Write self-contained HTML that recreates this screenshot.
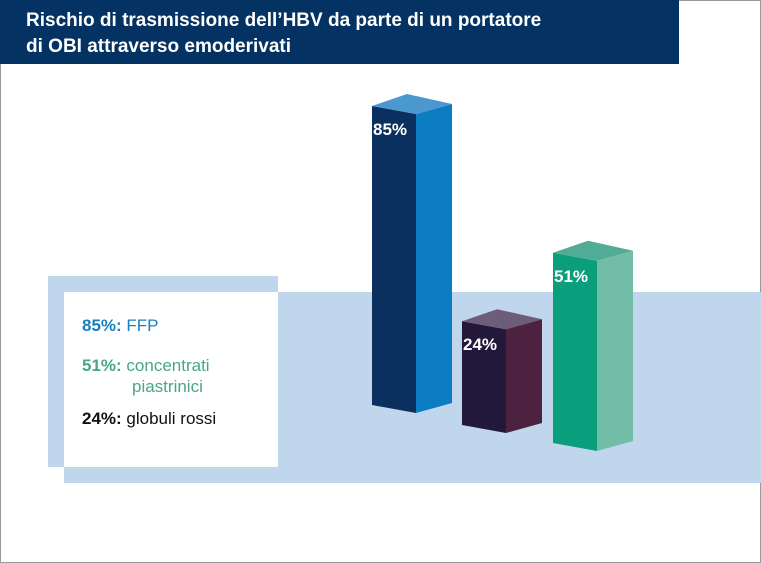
<!DOCTYPE html>
<html><head><meta charset="utf-8"><style>
body{margin:0;width:761px;height:563px;overflow:hidden;background:#fff;font-family:"Liberation Sans",sans-serif}
#frame{position:absolute;left:0;top:0;width:759px;height:561px;border:1px solid #9a9a9a}
</style></head><body>
<div id="frame"></div>
<svg width="761" height="563" style="position:absolute;left:0;top:0">
<rect x="0" y="0" width="679" height="64" fill="#043263"/>
<text x="26" y="26" fill="#fff" font-size="19" font-weight="bold">Rischio di trasmissione dell’HBV da parte di un portatore</text>
<text x="26" y="52" fill="#fff" font-size="19" font-weight="bold">di OBI attraverso emoderivati</text>
<rect x="64" y="292" width="697" height="191" fill="#c0d6ec"/>
<rect x="48" y="276" width="230" height="191" fill="#c0d6ec"/>
<rect x="64" y="292" width="214" height="175" fill="#fff"/>
<g font-size="17">
<text x="82" y="331" fill="#1a7fc1"><tspan font-weight="bold">85%:</tspan> FFP</text>
<text x="82" y="371" fill="#4aa58a"><tspan font-weight="bold">51%:</tspan> concentrati</text>
<text x="132" y="392" fill="#4aa58a">piastrinici</text>
<text x="82" y="424" fill="#111"><tspan font-weight="bold">24%:</tspan> globuli rossi</text>
</g>
<g id="bars"></g>
</svg>
<script>
const categories=["FFP","globuli rossi","concentrati piastrinici"];
const values=[85,24,51];
const labels=["85%","24%","51%"];
const xs=[372,462,553];
const bases=[405,425,443];
const fronts=["#0b305f","#22193a","#0b9e7c"];
const sides=["#0c7cc3","#4c2240","#72bca8"];
const tops=["#4a98cf","#6e5d7a","#51ac95"];
function h(v){return 27+3.2*v;}
const g=document.getElementById('bars');
const NS="http://www.w3.org/2000/svg";
values.forEach((v,i)=>{
  const x=xs[i],b=bases[i],t=b-h(v),fw=44,sw=36;
  const mk=(pts,fill,nm)=>{const p=document.createElementNS(NS,'polygon');
    p.setAttribute('points',pts.map(q=>q.join(',')).join(' '));p.setAttribute('fill',fill);
    
    
    g.appendChild(p);};
  mk([[x,t],[x+fw,t+8],[x+fw,b+8],[x,b]],fronts[i],'bar-front-'+i);
  mk([[x+fw,t+8],[x+fw+sw,t-2],[x+fw+sw,b-2],[x+fw,b+8]],sides[i],'bar-side-'+i);
  mk([[x,t],[x+35,t-12],[x+fw+sw,t-2],[x+fw,t+8]],tops[i],'bar-top-'+i);
  const tx=document.createElementNS(NS,'text');
  tx.setAttribute('x',x+1);tx.setAttribute('y',t+29);tx.setAttribute('fill','#fff');
  tx.setAttribute('font-size','17');tx.setAttribute('font-weight','bold');
  tx.textContent=labels[i];
  
  
  g.appendChild(tx);
});
</script>
</body></html>
